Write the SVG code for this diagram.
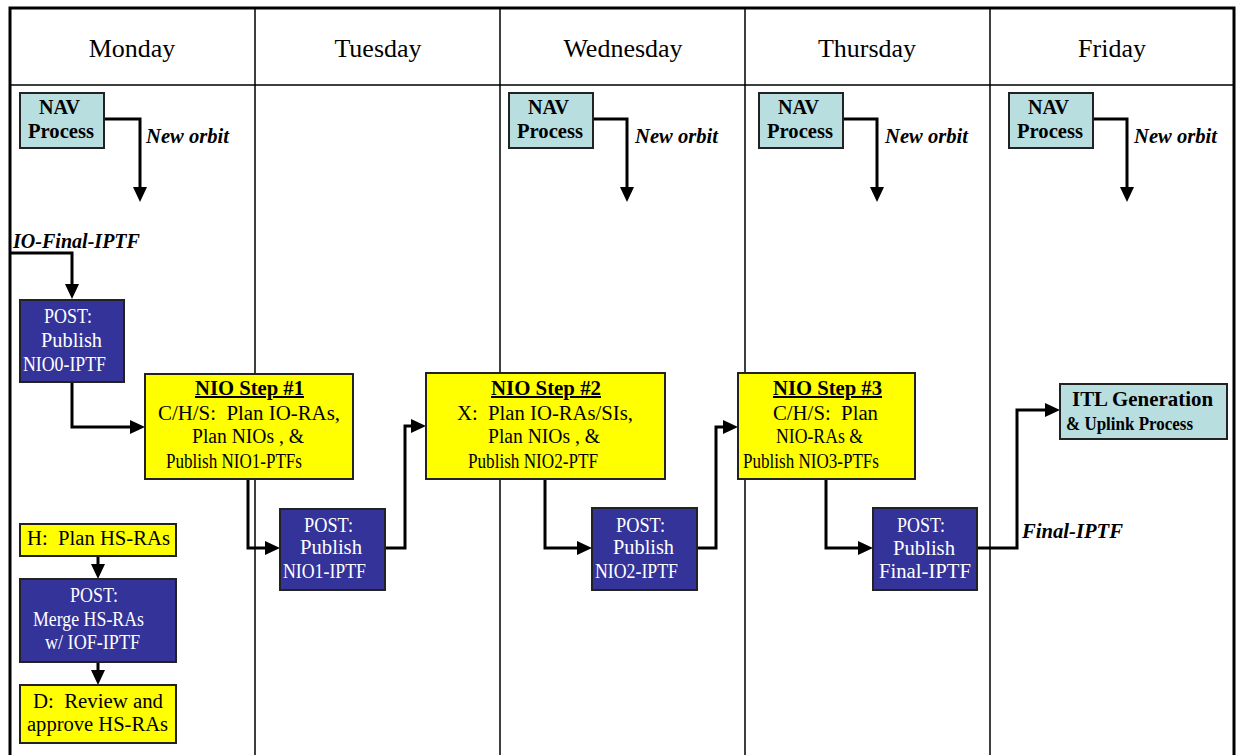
<svg xmlns="http://www.w3.org/2000/svg" width="1236" height="755" viewBox="0 0 1236 755">
<style>
text{font-family:"Liberation Serif","Times New Roman",serif;}
.hd{font-size:26px;text-anchor:middle;fill:#000;}
.t{font-size:20px;fill:#000;}
.w{font-size:20px;fill:#fff;}
.b{font-weight:bold;}
.bi{font-weight:bold;font-style:italic;font-size:20px;}
.u{text-decoration:underline;font-weight:bold;}
.cy{fill:#B8DEE0;stroke:#222;stroke-width:2;}
.nv{fill:#333399;stroke:#222;stroke-width:2;}
.ye{fill:#FFFF00;stroke:#222;stroke-width:2;}
.grid{stroke:#000;stroke-width:1.5;fill:none;}
.con path{fill:none;stroke:#000;stroke-width:3;marker-end:url(#ah);}
</style>
<defs>
<marker id="ah" markerUnits="userSpaceOnUse" markerWidth="16" markerHeight="16" refX="3" refY="7" orient="auto">
<path d="M0,0 L15,7 L0,14 z" fill="#000"/>
</marker>
</defs>
<rect x="0" y="0" width="1236" height="755" fill="#fff"/>
<g id="frame">
<path class="grid" d="M10,85 H1234 M255,8 V755 M500,8 V755 M745,8 V755 M990,8 V755"/>
<path d="M10,755 V8 H1234 V755" fill="none" stroke="#000" stroke-width="3"/>
<text class="hd" x="132" y="57">Monday</text>
<text class="hd" x="378" y="57">Tuesday</text>
<text class="hd" x="623" y="57">Wednesday</text>
<text class="hd" x="867" y="57">Thursday</text>
<text class="hd" x="1112" y="57">Friday</text>
</g>
<g class="con" id="connectors">
<path d="M104,119 H140 V190"/>
<path d="M593,119 H627 V190"/>
<path d="M843,119 H877 V190"/>
<path d="M1093,119 H1127 V190"/>
<path d="M10,253 H72 V287"/>
<path d="M72,382 V427 H133"/>
<path d="M248,479 V548 H268"/>
<path d="M385,548 H405 V426 H414"/>
<path d="M545,479 V548 H580"/>
<path d="M697,548 H716 V427 H726"/>
<path d="M826,479 V548 H861"/>
<path d="M977,548 H1017 V410 H1048"/>
<path d="M98,556 V567"/>
<path d="M98,662 V673"/>
</g>
<g id="labels">
<text class="bi" x="146" y="143" textLength="83" lengthAdjust="spacingAndGlyphs">New orbit</text>
<text class="bi" x="635" y="143" textLength="83" lengthAdjust="spacingAndGlyphs">New orbit</text>
<text class="bi" x="885" y="143" textLength="83" lengthAdjust="spacingAndGlyphs">New orbit</text>
<text class="bi" x="1134" y="143" textLength="83" lengthAdjust="spacingAndGlyphs">New orbit</text>
<text class="bi" x="13" y="248" textLength="127" lengthAdjust="spacingAndGlyphs">IO-Final-IPTF</text>
<text class="bi" x="1022" y="538" textLength="101" lengthAdjust="spacingAndGlyphs">Final-IPTF</text>
</g>
<g id="nav-mon">
<rect class="cy" x="20" y="93" width="84" height="55"/>
<text class="t b" x="39" y="114" textLength="41" lengthAdjust="spacingAndGlyphs">NAV</text>
<text class="t b" x="28" y="138" textLength="66" lengthAdjust="spacingAndGlyphs">Process</text>
</g>
<g id="nav-wed">
<rect class="cy" x="509" y="93" width="84" height="55"/>
<text class="t b" x="528" y="114" textLength="41" lengthAdjust="spacingAndGlyphs">NAV</text>
<text class="t b" x="517" y="138" textLength="66" lengthAdjust="spacingAndGlyphs">Process</text>
</g>
<g id="nav-thu">
<rect class="cy" x="759" y="93" width="84" height="55"/>
<text class="t b" x="778" y="114" textLength="41" lengthAdjust="spacingAndGlyphs">NAV</text>
<text class="t b" x="767" y="138" textLength="66" lengthAdjust="spacingAndGlyphs">Process</text>
</g>
<g id="nav-fri">
<rect class="cy" x="1009" y="93" width="84" height="55"/>
<text class="t b" x="1028" y="114" textLength="41" lengthAdjust="spacingAndGlyphs">NAV</text>
<text class="t b" x="1017" y="138" textLength="66" lengthAdjust="spacingAndGlyphs">Process</text>
</g>
<g id="post-nio0">
<rect class="nv" x="20" y="300" width="104" height="82"/>
<text class="w" x="44" y="323" textLength="48" lengthAdjust="spacingAndGlyphs">POST:</text>
<text class="w" x="41" y="347" textLength="61" lengthAdjust="spacingAndGlyphs">Publish</text>
<text class="w" x="23" y="371" textLength="83" lengthAdjust="spacingAndGlyphs">NIO0-IPTF</text>
</g>
<g id="nio-step1">
<rect class="ye" x="145" y="374" width="208" height="105"/>
<text class="t u" x="195" y="395" textLength="109" lengthAdjust="spacingAndGlyphs">NIO Step #1</text>
<text class="t" x="158" y="420" textLength="182" lengthAdjust="spacingAndGlyphs" xml:space="preserve">C/H/S:  Plan IO-RAs,</text>
<text class="t" x="192" y="443" textLength="112" lengthAdjust="spacingAndGlyphs">Plan NIOs , &amp;</text>
<text class="t" x="166" y="468" textLength="136" lengthAdjust="spacingAndGlyphs">Publish NIO1-PTFs</text>
</g>
<g id="post-nio1">
<rect class="nv" x="280" y="509" width="105" height="81"/>
<text class="w" x="304" y="532" textLength="49" lengthAdjust="spacingAndGlyphs">POST:</text>
<text class="w" x="300" y="554" textLength="62" lengthAdjust="spacingAndGlyphs">Publish</text>
<text class="w" x="283" y="578" textLength="83" lengthAdjust="spacingAndGlyphs">NIO1-IPTF</text>
</g>
<g id="nio-step2">
<rect class="ye" x="426" y="373" width="239" height="106"/>
<text class="t u" x="491" y="395" textLength="110" lengthAdjust="spacingAndGlyphs">NIO Step #2</text>
<text class="t" x="457" y="420" textLength="176" lengthAdjust="spacingAndGlyphs" xml:space="preserve">X:  Plan IO-RAs/SIs,</text>
<text class="t" x="488" y="443" textLength="112" lengthAdjust="spacingAndGlyphs">Plan NIOs , &amp;</text>
<text class="t" x="468" y="468" textLength="130" lengthAdjust="spacingAndGlyphs">Publish NIO2-PTF</text>
</g>
<g id="post-nio2">
<rect class="nv" x="592" y="508" width="105" height="82"/>
<text class="w" x="616" y="532" textLength="49" lengthAdjust="spacingAndGlyphs">POST:</text>
<text class="w" x="613" y="554" textLength="61" lengthAdjust="spacingAndGlyphs">Publish</text>
<text class="w" x="595" y="578" textLength="83" lengthAdjust="spacingAndGlyphs">NIO2-IPTF</text>
</g>
<g id="nio-step3">
<rect class="ye" x="738" y="373" width="177" height="106"/>
<text class="t u" x="773" y="395" textLength="109" lengthAdjust="spacingAndGlyphs">NIO Step #3</text>
<text class="t" x="773" y="420" textLength="105" lengthAdjust="spacingAndGlyphs" xml:space="preserve">C/H/S:  Plan</text>
<text class="t" x="776" y="443" textLength="87" lengthAdjust="spacingAndGlyphs">NIO-RAs &amp;</text>
<text class="t" x="743" y="468" textLength="136" lengthAdjust="spacingAndGlyphs">Publish NIO3-PTFs</text>
</g>
<g id="post-final">
<rect class="nv" x="873" y="508" width="104" height="82"/>
<text class="w" x="897" y="532" textLength="48" lengthAdjust="spacingAndGlyphs">POST:</text>
<text class="w" x="893" y="555" textLength="62" lengthAdjust="spacingAndGlyphs">Publish</text>
<text class="w" x="879" y="578" textLength="92" lengthAdjust="spacingAndGlyphs">Final-IPTF</text>
</g>
<g id="itl">
<rect class="cy" x="1060" y="384" width="167" height="55"/>
<text class="t b" x="1072" y="406" textLength="141" lengthAdjust="spacingAndGlyphs">ITL Generation</text>
<text class="t b" x="1066" y="430" textLength="127" lengthAdjust="spacingAndGlyphs" style="font-size:18px">&amp; Uplink Process</text>
</g>
<g id="plan-hs">
<rect class="ye" x="20" y="524" width="156" height="32"/>
<text class="t" x="27" y="545" textLength="143" lengthAdjust="spacingAndGlyphs" xml:space="preserve">H:  Plan HS-RAs</text>
</g>
<g id="post-merge">
<rect class="nv" x="20" y="579" width="156" height="83"/>
<text class="w" x="70" y="602" textLength="48" lengthAdjust="spacingAndGlyphs">POST:</text>
<text class="w" x="33" y="626" textLength="111" lengthAdjust="spacingAndGlyphs">Merge HS-RAs</text>
<text class="w" x="45" y="649" textLength="95" lengthAdjust="spacingAndGlyphs">w/ IOF-IPTF</text>
</g>
<g id="review-hs">
<rect class="ye" x="20" y="685" width="156" height="58"/>
<text class="t" x="33" y="708" textLength="130" lengthAdjust="spacingAndGlyphs" xml:space="preserve">D:  Review and</text>
<text class="t" x="27" y="731" textLength="141" lengthAdjust="spacingAndGlyphs">approve HS-RAs</text>
</g>
</svg>
